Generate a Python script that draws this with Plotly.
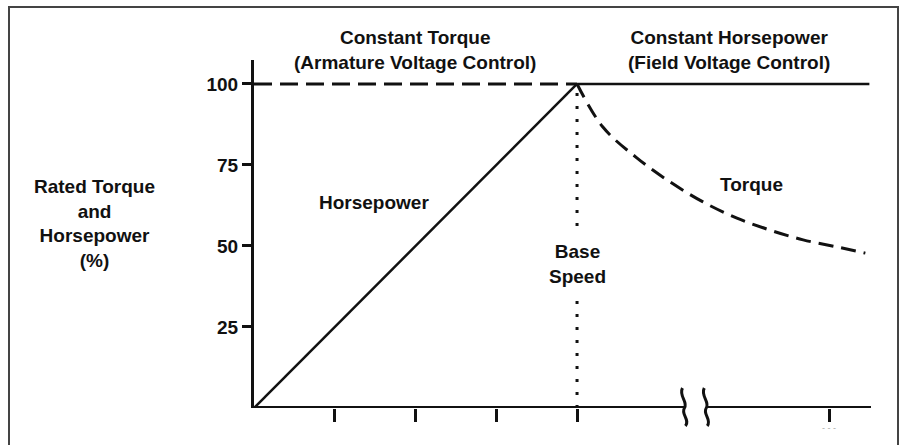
import plotly.graph_objects as go

# ---------------- data ----------------
y_tick_vals = [25, 50, 75, 100]
y_tick_text = ["25", "50", "75", "100"]
x_tick_vals = [1, 2, 3, 4, 7.12]          # speed ticks (base speed = 4)
base_speed = 4
rated_pct = 100

hp_x = [0, 4]                               # horsepower rises linearly to base speed
hp_y = [0, 100]

rated_top_x_ct = [0, 4]                     # constant torque region (dashed at 100%)
rated_top_y_ct = [100, 100]
rated_top_x_chp = [4, 7.62]                 # constant horsepower region (solid at 100%)
rated_top_y_chp = [100, 100]

torque_x = [4.0, 4.32, 4.74, 5.15, 5.56, 5.98, 6.39, 6.80, 7.22, 7.57]
torque_y = [100, 86.7, 77.2, 69.8, 63.6, 58.6, 54.9, 51.9, 49.7, 47.8]

base_x = [4, 4]
base_y = [0, 100]

x_range = [0, 7.64]
y_range = [0, 107.4]
break_at = [5.33, 5.6]

# ---------------- layout geometry ----------------
W_FIG, H_FIG = 902, 445
L, R, T, B = 254, 31, 60, 37
PW = W_FIG - L - R
PH = H_FIG - T - B


def px(x):
    return (x - L) / PW


def py(y):
    return 1 - (y - T) / PH


FONT = "Liberation Sans, Arial, Helvetica, sans-serif"
INK = "#111111"

fig = go.Figure()

fig.add_trace(go.Scatter(x=hp_x, y=hp_y, mode="lines",
                         line=dict(color=INK, width=2.5), hoverinfo="skip"))
fig.add_trace(go.Scatter(x=rated_top_x_ct, y=rated_top_y_ct, mode="lines",
                         line=dict(color=INK, width=3, dash="18px,8px"), hoverinfo="skip"))
fig.add_trace(go.Scatter(x=rated_top_x_chp, y=rated_top_y_chp, mode="lines",
                         line=dict(color=INK, width=2.5), hoverinfo="skip"))
fig.add_trace(go.Scatter(x=torque_x, y=torque_y, mode="lines",
                         line=dict(color=INK, width=3, dash="15px,8px", shape="spline"),
                         hoverinfo="skip"))
fig.add_trace(go.Scatter(x=base_x, y=base_y, mode="lines",
                         line=dict(color=INK, width=3, dash="3px,10px"), hoverinfo="skip"))

shapes = []
# x axis line, broken
shapes.append(dict(type="line", xref="x", yref="y", x0=x_range[0] - 0.01, x1=break_at[0],
                   y0=0, y1=0, line=dict(color=INK, width=4)))
shapes.append(dict(type="line", xref="x", yref="y", x0=break_at[1], x1=x_range[1],
                   y0=0, y1=0, line=dict(color=INK, width=4)))
# break marks (S-shaped)
for bx in break_at:
    X = px(L + bx * PW / x_range[1])
    shapes.append(dict(
        type="path", xref="paper", yref="paper",
        path=(f"M {X - 2/PW:.5f},{py(388):.5f} "
              f"C {X - 6/PW:.5f},{py(396):.5f} {X + 4/PW:.5f},{py(402):.5f} {X:.5f},{py(408):.5f} "
              f"C {X - 4/PW:.5f},{py(414):.5f} {X + 6/PW:.5f},{py(420):.5f} {X + 1/PW:.5f},{py(426):.5f}"),
        line=dict(color=INK, width=3)))
# frame border
shapes.append(dict(type="path", xref="paper", yref="paper",
                   path=(f"M {px(9)},{py(446)} L {px(9)},{py(7)} L {px(898)},{py(7)} "
                         f"L {px(898)},{py(446)}"),
                   line=dict(color="#444444", width=2)))

annotations = [
    dict(text="Constant Torque<br>(Armature Voltage Control)", x=px(415), y=py(50),
         xref="paper", yref="paper", showarrow=False, xanchor="center", yanchor="middle",
         font=dict(family=FONT, size=19, color=INK, weight="bold")),
    dict(text="Constant Horsepower<br>(Field Voltage Control)", x=px(729), y=py(50),
         xref="paper", yref="paper", showarrow=False, xanchor="center", yanchor="middle",
         font=dict(family=FONT, size=19, color=INK, weight="bold")),
    dict(text="Rated Torque<br>and<br>Horsepower<br>(%)", x=px(94), y=py(223),
         xref="paper", yref="paper", showarrow=False, xanchor="center", yanchor="middle",
         font=dict(family=FONT, size=19, color=INK, weight="bold")),
    dict(text="Horsepower", x=px(374), y=py(202),
         xref="paper", yref="paper", showarrow=False, xanchor="center", yanchor="middle",
         font=dict(family=FONT, size=19, color=INK, weight="bold")),
    dict(text="Torque", x=px(751), y=py(184),
         xref="paper", yref="paper", showarrow=False, xanchor="center", yanchor="middle",
         font=dict(family=FONT, size=19, color=INK, weight="bold")),
    dict(text="Base<br>Speed", x=base_speed, y=py(264), xref="x", yref="paper",
         showarrow=False, xanchor="center", yanchor="middle", bgcolor="white", borderpad=5,
         font=dict(family=FONT, size=19, color=INK, weight="bold")),
    dict(text="- - -", x=7.12, y=py(428), xref="x", yref="paper",
         showarrow=False, xanchor="center", yanchor="middle",
         font=dict(family=FONT, size=9, color="#aaaaaa")),
]

fig.update_layout(
    width=W_FIG, height=H_FIG,
    margin=dict(l=L, r=R, t=T, b=B),
    paper_bgcolor="white", plot_bgcolor="white",
    showlegend=False,
    shapes=shapes,
    annotations=annotations,
    xaxis=dict(range=x_range, showgrid=False, zeroline=False, showline=False,
               tickvals=x_tick_vals, ticktext=[""] * len(x_tick_vals),
               ticks="outside", ticklen=13, tickwidth=3, tickcolor=INK, fixedrange=True),
    yaxis=dict(range=y_range, showgrid=False, zeroline=False, showline=True,
               linecolor=INK, linewidth=3,
               tickvals=y_tick_vals, ticktext=y_tick_text,
               ticks="outside", ticklen=9, tickwidth=3, tickcolor=INK,
               tickfont=dict(family=FONT, size=19, color=INK, weight="bold"),
               fixedrange=True),
)

fig.write_html("out.html", config={"displayModeBar": False},
               post_script="document.body.style.margin='0';document.body.style.overflow='hidden';")
